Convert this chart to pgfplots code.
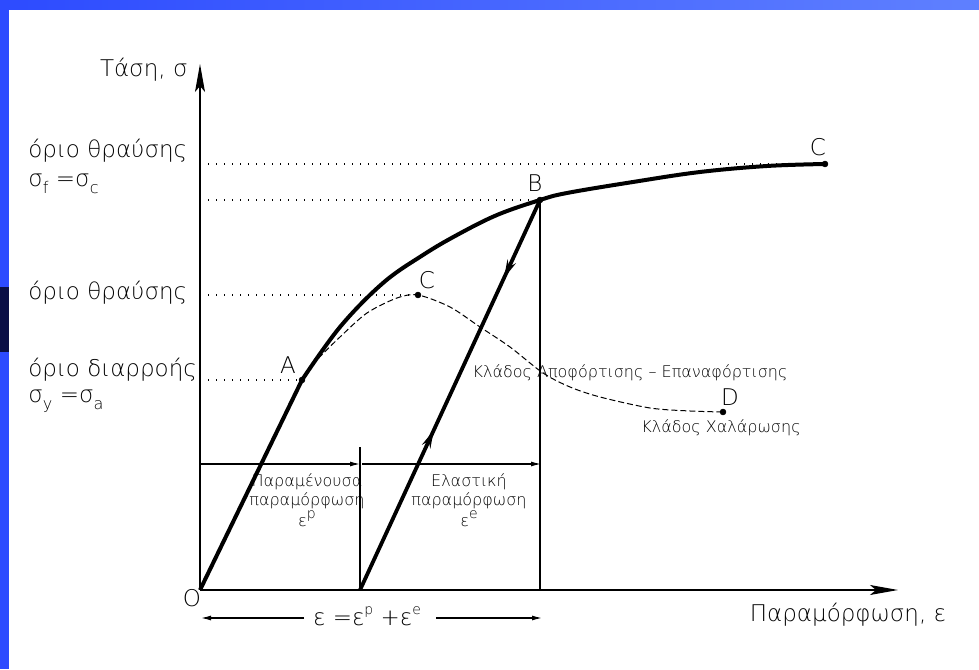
\documentclass[border=0pt]{standalone}
\usepackage{fontspec}
\setmainfont{DejaVu Sans ExtraLight}
\usepackage{pgfplots}
\pgfplotsset{compat=1.18}
\usetikzlibrary{arrows.meta,decorations.markings}
\definecolor{blueA}{RGB}{45,75,255}
\definecolor{blueB}{RGB}{95,128,255}
\definecolor{navyP}{RGB}{10,15,70}
\newcommand\Lf{\fontsize{11.5}{13}\selectfont}
\newcommand\Sf{\fontsize{8}{9.5}\selectfont}
\newcommand\sub[1]{\raisebox{-0.55ex}{\fontsize{8}{8}\selectfont #1}}
\newcommand\sups[1]{\raisebox{0.9ex}{\fontsize{7}{7}\selectfont #1}}
\begin{document}
\begin{tikzpicture}
\begin{axis}[width=489.5pt,height=334.5pt,scale only axis,
  xmin=-200,xmax=779,ymin=-79,ymax=590,hide axis,clip=false]
% slide background
\fill[white] (axis cs:-200,-79) rectangle (axis cs:779,590);
\fill[left color=blueA,right color=blueB] (axis cs:-200,580) rectangle (axis cs:779,590);
\fill[blueA] (axis cs:-200,-79) rectangle (axis cs:-191,580);
\fill[navyP] (axis cs:-200,238) rectangle (axis cs:-191,303);
% axes
\addplot[black,line width=0.6pt,-{Stealth[length=14pt,width=5pt,inset=3pt]}] coordinates {(0,0) (0,526)};
\addplot[black,line width=0.6pt,-{Stealth[length=14pt,width=5pt,inset=3pt]}] coordinates {(0,0) (698,0)};
% dotted reference lines
\addplot[black,line width=0.7pt,dash pattern=on 0.7pt off 3.3pt] coordinates {(8,426) (625,426)};
\addplot[black,line width=0.7pt,dash pattern=on 0.7pt off 3.3pt] coordinates {(8,390) (340,390)};
\addplot[black,line width=0.7pt,dash pattern=on 0.7pt off 3.3pt] coordinates {(8,295) (218,295)};
\addplot[black,line width=0.7pt,dash pattern=on 0.7pt off 3.3pt] coordinates {(8,210) (102,210)};
% thin vertical lines
\addplot[black,line width=0.6pt] coordinates {(160,0) (160,143)};
\addplot[black,line width=0.6pt] coordinates {(340,0) (340,390)};
% dimension arrows
\addplot[black,line width=0.6pt,-{Latex[length=5pt,width=2.5pt]}] coordinates {(0,126) (160,126)};
\addplot[black,line width=0.6pt,-{Latex[length=5pt,width=2.5pt]}] coordinates {(162,126) (341,126)};
\addplot[black,line width=0.6pt,-{Latex[length=5pt,width=2.5pt]}] coordinates {(104,-28) (1,-28)};
\addplot[black,line width=0.6pt,-{Latex[length=5pt,width=2.5pt]}] coordinates {(236,-28) (342,-28)};
% dashed softening branch
\addplot[black,line width=0.5pt,dash pattern=on 3pt off 1.5pt,smooth,tension=0.5] coordinates {
(102,210)(117,230)(140,253)(167,277)(197,292)(218,295)(250,283)(280,263)(310,243)(343,217)(370,203)(400,193)(450,182)(490,179)(523,178)};
% main curve
\addplot[black,line width=2pt,line join=round] coordinates {(0,0) (102,210)};
\addplot[black,line width=2pt,smooth,tension=0.6,line join=round] coordinates {
(102,210)(140,263)(183,307)(223,335)(257,355)(297,375)(340,390)(367,397)(433,408)(500,418)(567,424)(625,426)};
% unloading / reloading line
\addplot[black,line width=1.9pt,postaction={decorate},
  decoration={markings,
    mark=at position 0.41 with {\arrow{Stealth[length=9pt,width=4.5pt]}},
    mark=at position 0.80 with {\arrowreversed{Stealth[length=9pt,width=4.5pt]}}}]
  coordinates {(160,0) (340,390)};
% points
\addplot[only marks,mark=*,mark size=1.4pt,black] coordinates {(102,210)(340,390)(625,426)(218,295)(523,178)};
% labels
\node[anchor=east,inner sep=0,font=\Lf] at (axis cs:-12,520) {Τάση, σ};
\node[anchor=base west,inner sep=0,font=\Lf] at (axis cs:-172,432) {όριο θραύσης};
\node[anchor=base west,inner sep=0,font=\Lf] at (axis cs:-172,403) {σ\sub{f} =σ\sub{c}};
\node[anchor=base west,inner sep=0,font=\Lf] at (axis cs:-172,290) {όριο θραύσης};
\node[anchor=base west,inner sep=0,font=\Lf] at (axis cs:-172,213) {όριο διαρροής};
\node[anchor=base west,inner sep=0,font=\Lf] at (axis cs:-172,187) {σ\sub{y} =σ\sub{a}};
\node[inner sep=0,font=\Lf] at (axis cs:88,225) {A};
\node[inner sep=0,font=\Lf] at (axis cs:335,407) {B};
\node[inner sep=0,font=\Lf] at (axis cs:618,443) {C};
\node[inner sep=0,font=\Lf] at (axis cs:227,310) {C};
\node[inner sep=0,font=\Lf] at (axis cs:530,193) {D};
\node[inner sep=0,font=\Lf] at (axis cs:-8,-8) {O};
\node[inner sep=0,font=\Sf] at (axis cs:430,217) {Κλάδος Αποφόρτισης -- Επαναφόρτισης};
\node[inner sep=0,font=\Sf] at (axis cs:521,162) {Κλάδος Χαλάρωσης};
\node[anchor=north,inner sep=0,font=\Sf,align=center] at (axis cs:107,117) {Παραμένουσα\\παραμόρφωση\\ε\sups{p}};
\node[anchor=north,inner sep=0,font=\Sf,align=center] at (axis cs:269,117) {Ελαστική\\παραμόρφωση\\ε\sups{e}};
\node[inner sep=0,font=\Lf] at (axis cs:167,-26) {ε =ε\sups{p} +ε\sups{e}};
\node[inner sep=0,font=\Lf] at (axis cs:648,-25) {Παραμόρφωση, ε};
\end{axis}
\end{tikzpicture}
\end{document}
